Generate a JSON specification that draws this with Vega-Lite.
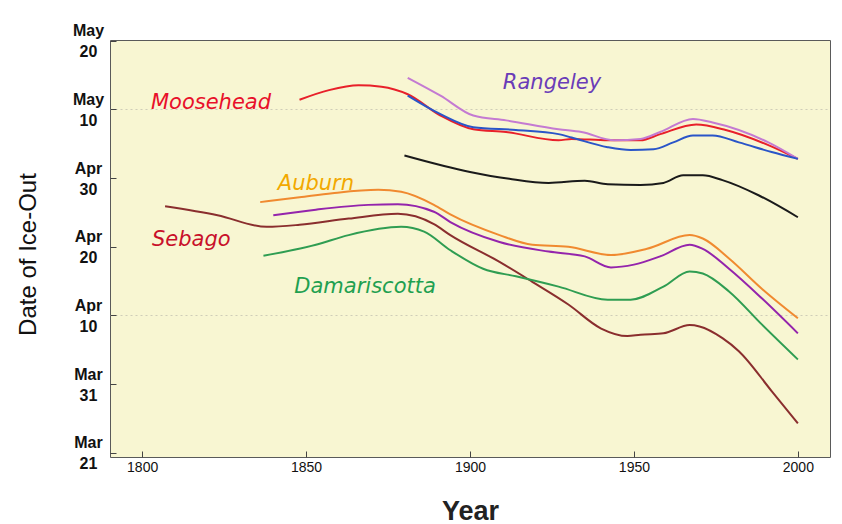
{
  "$schema": "https://vega.github.io/schema/vega-lite/v6.json",
  "autosize": "none",
  "width": 720,
  "height": 417,
  "padding": {"left": 110, "top": 40, "right": 12, "bottom": 67},
  "background": "white",
  "config": {
    "view": {"fill": "#f8f6d2", "stroke": "#5a5a5a", "strokeWidth": 1},
    "font": "Liberation Sans"
  },
  "datasets": {
    "curves": [
      {"lake": "Moosehead", "year": 1848, "day": 131.4},
      {"lake": "Moosehead", "year": 1857, "day": 132.8},
      {"lake": "Moosehead", "year": 1866, "day": 133.5},
      {"lake": "Moosehead", "year": 1873, "day": 133.3},
      {"lake": "Moosehead", "year": 1881, "day": 132.2},
      {"lake": "Moosehead", "year": 1891, "day": 129.1},
      {"lake": "Moosehead", "year": 1901, "day": 127.1},
      {"lake": "Moosehead", "year": 1911, "day": 126.7},
      {"lake": "Moosehead", "year": 1927, "day": 125.5},
      {"lake": "Moosehead", "year": 1931, "day": 125.7},
      {"lake": "Moosehead", "year": 1942, "day": 125.5},
      {"lake": "Moosehead", "year": 1952, "day": 125.5},
      {"lake": "Moosehead", "year": 1958, "day": 126.4},
      {"lake": "Moosehead", "year": 1969, "day": 127.8},
      {"lake": "Moosehead", "year": 1978, "day": 127.0},
      {"lake": "Moosehead", "year": 1991, "day": 124.8},
      {"lake": "Moosehead", "year": 2000, "day": 122.8},
      {"lake": "Rangeley", "year": 1881, "day": 134.6},
      {"lake": "Rangeley", "year": 1891, "day": 132.0},
      {"lake": "Rangeley", "year": 1901, "day": 129.1},
      {"lake": "Rangeley", "year": 1911, "day": 128.4},
      {"lake": "Rangeley", "year": 1927, "day": 127.1},
      {"lake": "Rangeley", "year": 1934, "day": 126.7},
      {"lake": "Rangeley", "year": 1944, "day": 125.5},
      {"lake": "Rangeley", "year": 1952, "day": 125.7},
      {"lake": "Rangeley", "year": 1958, "day": 126.7},
      {"lake": "Rangeley", "year": 1968, "day": 128.6},
      {"lake": "Rangeley", "year": 1974, "day": 128.1},
      {"lake": "Rangeley", "year": 1991, "day": 125.2},
      {"lake": "Rangeley", "year": 2000, "day": 122.8},
      {"lake": "Blue", "year": 1881, "day": 132.0},
      {"lake": "Blue", "year": 1891, "day": 129.3},
      {"lake": "Blue", "year": 1901, "day": 127.4},
      {"lake": "Blue", "year": 1914, "day": 127.0},
      {"lake": "Blue", "year": 1927, "day": 126.4},
      {"lake": "Blue", "year": 1931, "day": 125.9},
      {"lake": "Blue", "year": 1942, "day": 124.5},
      {"lake": "Blue", "year": 1949, "day": 124.1},
      {"lake": "Blue", "year": 1956, "day": 124.2},
      {"lake": "Blue", "year": 1962, "day": 125.2},
      {"lake": "Blue", "year": 1968, "day": 126.2},
      {"lake": "Blue", "year": 1974, "day": 126.2},
      {"lake": "Blue", "year": 1982, "day": 125.2},
      {"lake": "Blue", "year": 1992, "day": 123.8},
      {"lake": "Blue", "year": 2000, "day": 122.8},
      {"lake": "Black", "year": 1880, "day": 123.3},
      {"lake": "Black", "year": 1900, "day": 120.9},
      {"lake": "Black", "year": 1912, "day": 119.9},
      {"lake": "Black", "year": 1924, "day": 119.3},
      {"lake": "Black", "year": 1935, "day": 119.6},
      {"lake": "Black", "year": 1942, "day": 119.1},
      {"lake": "Black", "year": 1952, "day": 119.0},
      {"lake": "Black", "year": 1959, "day": 119.3},
      {"lake": "Black", "year": 1965, "day": 120.4},
      {"lake": "Black", "year": 1971, "day": 120.4},
      {"lake": "Black", "year": 1977, "day": 119.7},
      {"lake": "Black", "year": 1988, "day": 117.5},
      {"lake": "Black", "year": 2000, "day": 114.3},
      {"lake": "Auburn", "year": 1836, "day": 116.5},
      {"lake": "Auburn", "year": 1848, "day": 117.2},
      {"lake": "Auburn", "year": 1858, "day": 117.8},
      {"lake": "Auburn", "year": 1872, "day": 118.3},
      {"lake": "Auburn", "year": 1879, "day": 118.0},
      {"lake": "Auburn", "year": 1889, "day": 116.1},
      {"lake": "Auburn", "year": 1894, "day": 114.7},
      {"lake": "Auburn", "year": 1909, "day": 111.7},
      {"lake": "Auburn", "year": 1919, "day": 110.3},
      {"lake": "Auburn", "year": 1930, "day": 110.0},
      {"lake": "Auburn", "year": 1943, "day": 108.8},
      {"lake": "Auburn", "year": 1954, "day": 109.7},
      {"lake": "Auburn", "year": 1967, "day": 111.7},
      {"lake": "Auburn", "year": 1971, "day": 111.2},
      {"lake": "Auburn", "year": 1979, "day": 108.3},
      {"lake": "Auburn", "year": 1989, "day": 103.9},
      {"lake": "Auburn", "year": 2000, "day": 99.6},
      {"lake": "Purple", "year": 1840, "day": 114.6},
      {"lake": "Purple", "year": 1853, "day": 115.4},
      {"lake": "Purple", "year": 1869, "day": 116.1},
      {"lake": "Purple", "year": 1878, "day": 116.2},
      {"lake": "Purple", "year": 1889, "day": 115.1},
      {"lake": "Purple", "year": 1894, "day": 113.6},
      {"lake": "Purple", "year": 1909, "day": 110.7},
      {"lake": "Purple", "year": 1924, "day": 109.3},
      {"lake": "Purple", "year": 1935, "day": 108.6},
      {"lake": "Purple", "year": 1943, "day": 107.0},
      {"lake": "Purple", "year": 1950, "day": 107.4},
      {"lake": "Purple", "year": 1958, "day": 108.6},
      {"lake": "Purple", "year": 1967, "day": 110.3},
      {"lake": "Purple", "year": 1971, "day": 109.7},
      {"lake": "Purple", "year": 1979, "day": 106.8},
      {"lake": "Purple", "year": 1989, "day": 102.5},
      {"lake": "Purple", "year": 2000, "day": 97.4},
      {"lake": "Sebago", "year": 1807, "day": 115.9},
      {"lake": "Sebago", "year": 1823, "day": 114.6},
      {"lake": "Sebago", "year": 1838, "day": 112.9},
      {"lake": "Sebago", "year": 1848, "day": 113.2},
      {"lake": "Sebago", "year": 1863, "day": 114.1},
      {"lake": "Sebago", "year": 1878, "day": 114.8},
      {"lake": "Sebago", "year": 1889, "day": 113.3},
      {"lake": "Sebago", "year": 1894, "day": 111.7},
      {"lake": "Sebago", "year": 1909, "day": 107.8},
      {"lake": "Sebago", "year": 1919, "day": 104.9},
      {"lake": "Sebago", "year": 1930, "day": 101.6},
      {"lake": "Sebago", "year": 1940, "day": 98.1},
      {"lake": "Sebago", "year": 1948, "day": 97.0},
      {"lake": "Sebago", "year": 1952, "day": 97.2},
      {"lake": "Sebago", "year": 1959, "day": 97.4},
      {"lake": "Sebago", "year": 1967, "day": 98.6},
      {"lake": "Sebago", "year": 1970, "day": 98.4},
      {"lake": "Sebago", "year": 1977, "day": 96.7},
      {"lake": "Sebago", "year": 1982, "day": 94.8},
      {"lake": "Sebago", "year": 1992, "day": 89.0},
      {"lake": "Sebago", "year": 2000, "day": 84.3},
      {"lake": "Damariscotta", "year": 1837, "day": 108.7},
      {"lake": "Damariscotta", "year": 1853, "day": 110.3},
      {"lake": "Damariscotta", "year": 1863, "day": 111.7},
      {"lake": "Damariscotta", "year": 1879, "day": 112.9},
      {"lake": "Damariscotta", "year": 1886, "day": 112.2},
      {"lake": "Damariscotta", "year": 1894, "day": 109.5},
      {"lake": "Damariscotta", "year": 1904, "day": 106.8},
      {"lake": "Damariscotta", "year": 1914, "day": 105.7},
      {"lake": "Damariscotta", "year": 1927, "day": 104.2},
      {"lake": "Damariscotta", "year": 1942, "day": 102.3},
      {"lake": "Damariscotta", "year": 1949, "day": 102.3},
      {"lake": "Damariscotta", "year": 1959, "day": 104.2},
      {"lake": "Damariscotta", "year": 1967, "day": 106.4},
      {"lake": "Damariscotta", "year": 1971, "day": 106.1},
      {"lake": "Damariscotta", "year": 1979, "day": 103.5},
      {"lake": "Damariscotta", "year": 1989, "day": 98.7},
      {"lake": "Damariscotta", "year": 2000, "day": 93.6}
    ],
    "labels": [
      {"name": "Moosehead", "year": 1821, "day": 131.0},
      {"name": "Rangeley", "year": 1925, "day": 133.9},
      {"name": "Auburn", "year": 1853, "day": 119.1},
      {"name": "Sebago", "year": 1815, "day": 111.0},
      {"name": "Damariscotta", "year": 1868, "day": 104.2}
    ]
  },
  "layer": [
    {
      "data": {"name": "curves"},
      "mark": {"type": "line", "strokeWidth": 2, "interpolate": "monotone"},
      "encoding": {
        "x": {
          "field": "year", "type": "quantitative",
          "scale": {"domain": [1790.2, 2009.8], "nice": false, "zero": false},
          "axis": {
            "values": [1800, 1850, 1900, 1950, 2000],
            "format": "d",
            "title": "Year",
            "titleFont": "Liberation Sans",
            "titleFontSize": 27,
            "titleFontWeight": "bold",
            "titleColor": "#222",
            "titleY": 54,
            "titleBaseline": "middle",
            "labelFont": "Liberation Sans",
            "labelFontSize": 14,
            "labelColor": "#111",
            "labelPadding": 9,
            "tickSize": -6,
            "tickColor": "#444",
            "domain": false,
            "grid": false
          }
        },
        "y": {
          "field": "day", "type": "quantitative",
          "scale": {"domain": [79.4, 140.1], "nice": false, "zero": false},
          "axis": {
            "values": [80, 90, 100, 110, 120, 130, 140],
            "labelExpr": "datum.value == 140 ? ['May', '20'] : datum.value == 130 ? ['May', '10'] : datum.value == 120 ? ['Apr', '30'] : datum.value == 110 ? ['Apr', '20'] : datum.value == 100 ? ['Apr', '10'] : datum.value == 90 ? ['Mar', '31'] : ['Mar', '21']",
            "labelAlign": "center",
            "labelBaseline": "middle",
            "labelLineHeight": 21,
            "labelOffset": -10,
            "labelFont": "Liberation Sans",
            "labelFontSize": 16,
            "labelFontWeight": "bold",
            "labelColor": "#111",
            "labelPadding": 28,
            "labelFlush": false,
            "labelOverlap": false,
            "labelBound": false,
            "tickSize": -6,
            "tickColor": "#444",
            "domain": false,
            "grid": true,
            "gridColor": {"condition": {"test": "datum.value == 100 || datum.value == 130", "value": "#cfcdb8"}, "value": "transparent"},
            "gridDash": [2, 3],
            "title": "Date of Ice-Out",
            "titleFont": "Liberation Sans",
            "titleFontSize": 24,
            "titleFontWeight": "normal",
            "titleColor": "#111",
            "titleAngle": -90,
            "titleAlign": "center",
            "titleBaseline": "middle",
            "titleX": -82,
            "titleY": 214
          }
        },
        "color": {
          "field": "lake", "type": "nominal",
          "scale": {
            "domain": ["Moosehead", "Rangeley", "Blue", "Black", "Auburn", "Purple", "Sebago", "Damariscotta"],
            "range": ["#e8202a", "#c47ad2", "#2a55c8", "#1a1a1a", "#f08a30", "#9424ac", "#8a2e2e", "#2f9d52"]
          },
          "legend": null
        },
        "detail": {"field": "lake"}
      }
    },
    {
      "data": {"name": "labels"},
      "mark": {"type": "text", "fontSize": 21, "fontStyle": "italic", "font": "DejaVu Sans", "align": "center", "baseline": "middle"},
      "encoding": {
        "x": {"field": "year", "type": "quantitative"},
        "y": {"field": "day", "type": "quantitative"},
        "text": {"field": "name"},
        "color": {
          "field": "name", "type": "nominal",
          "scale": {
            "domain": ["Moosehead", "Rangeley", "Auburn", "Sebago", "Damariscotta"],
            "range": ["#e8102a", "#6a3cb8", "#f2a800", "#c8102a", "#1fa050"]
          },
          "legend": null
        }
      }
    }
  ],
  "resolve": {"scale": {"color": "independent"}}
}
